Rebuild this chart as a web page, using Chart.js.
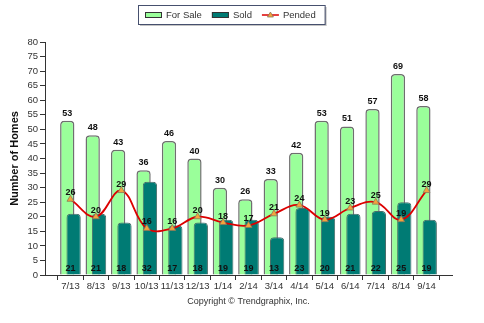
<!DOCTYPE html>
<html>
<head>
<meta charset="utf-8">
<script src="https://cdn.jsdelivr.net/npm/chart.js@4/dist/chart.umd.min.js"></script>
<style>
  html, body { margin: 0; padding: 0; background: #fff; }
  #wrap { width: 484px; height: 323px; }
</style>
</head>
<body>
<div id="wrap"><canvas id="c" width="484" height="323"></canvas></div>
<script>
// Monthly housing activity, 7/13 – 9/14
const months  = ['7/13','8/13','9/13','10/13','11/13','12/13','1/14','2/14','3/14','4/14','5/14','6/14','7/14','8/14','9/14'];
const forSale = [53, 48, 43, 36, 46, 40, 30, 26, 33, 42, 53, 51, 57, 69, 58];
const sold    = [21, 21, 18, 32, 17, 18, 19, 19, 13, 23, 20, 21, 22, 25, 19];
const pended  = [26, 20, 29, 16, 16, 20, 18, 17, 21, 24, 19, 23, 25, 19, 29];
const yMin = 0, yMax = 80, yStep = 5;

const FONT = '"Liberation Sans", Arial, sans-serif';
const toPoints = vals => vals.map((v, i) => ({ x: i, y: v }));

// Sold bars sit on the right of each pair but are painted over the For Sale bars.
const soldOnTop = {
  id: 'soldOnTop',
  beforeDatasetDraw(chart, args) {
    if (args.index === 1) return false;
  },
  afterDatasetDraw(chart, args) {
    if (args.index === 0) {
      const { ctx, chartArea } = chart;
      ctx.save();
      ctx.beginPath();
      ctx.rect(chartArea.left, chartArea.top - 20, chartArea.right - chartArea.left, chartArea.bottom - chartArea.top + 20);
      ctx.clip();
      chart.getDatasetMeta(1).controller.draw();
      ctx.restore();
    }
  }
};

// Value labels: For Sale above the bar, Sold at the foot of the pair, Pended above its point
const valueLabels = {
  id: 'valueLabels',
  afterDatasetsDraw(chart) {
    const { ctx } = chart;
    const xs = chart.scales.x, ys = chart.scales.y;
    ctx.save();
    ctx.font = 'bold 9px ' + FONT;
    ctx.fillStyle = '#111';
    ctx.textAlign = 'center';
    ctx.textBaseline = 'alphabetic';
    chart.data.datasets.forEach((ds, di) => {
      const meta = chart.getDatasetMeta(di);
      meta.data.forEach((el, i) => {
        const v = ds.data[i].y;
        if (ds.valuePos === 'top') {
          ctx.fillText(String(v), el.x, el.y - 5);
        } else if (ds.valuePos === 'base') {
          ctx.fillText(String(v), xs.getPixelForValue(i), ys.getPixelForValue(0) - 4);
        } else {
          ctx.fillText(String(v), el.x, el.y - 4);
        }
      });
    });
    ctx.restore();
  }
};

// Boxed legend at the top of the chart
const boxedLegend = {
  id: 'boxedLegend',
  afterDraw(chart) {
    const { ctx } = chart;
    const ds = chart.data.datasets;
    const left = 138, top = 5, height = 19, sw = 17, gap = 4, spacing = 10;
    ctx.save();
    ctx.font = '9.5px ' + FONT;
    let w = 7;
    ds.forEach((d, i) => { w += sw + gap + ctx.measureText(d.label).width + (i < ds.length - 1 ? spacing : 9); });
    // shadow + box
    ctx.fillStyle = '#c4c4c4';
    ctx.fillRect(left + 2, top + 2, w, height);
    ctx.fillStyle = '#fff';
    ctx.fillRect(left, top, w, height);
    ctx.strokeStyle = '#46506e';
    ctx.lineWidth = 1;
    ctx.strokeRect(left + 0.5, top + 0.5, w, height);
    const cy = top + height / 2 + 0.5;
    let x = left + 7;
    ds.forEach(d => {
      if (d.type === 'line') {
        ctx.strokeStyle = d.borderColor;
        ctx.lineWidth = 1.5;
        ctx.beginPath(); ctx.moveTo(x, cy); ctx.lineTo(x + sw, cy); ctx.stroke();
        ctx.fillStyle = d.pointBackgroundColor;
        ctx.strokeStyle = d.pointBorderColor;
        ctx.lineWidth = 0.8;
        ctx.beginPath();
        ctx.moveTo(x + sw / 2, cy - 3);
        ctx.lineTo(x + sw / 2 + 3, cy + 2);
        ctx.lineTo(x + sw / 2 - 3, cy + 2);
        ctx.closePath(); ctx.fill(); ctx.stroke();
      } else {
        ctx.fillStyle = d.backgroundColor;
        ctx.fillRect(x, cy - 3, sw, 6);
        ctx.strokeStyle = '#333';
        ctx.lineWidth = 1;
        ctx.strokeRect(x + 0.5, cy - 3 + 0.5, sw - 1, 5);
      }
      x += sw + gap;
      ctx.fillStyle = '#333';
      ctx.textAlign = 'left';
      ctx.textBaseline = 'middle';
      ctx.fillText(d.label, x, cy);
      x += ctx.measureText(d.label).width + spacing;
    });
    ctx.restore();
  }
};

new Chart(document.getElementById('c'), {
  data: {
    datasets: [
      {
        type: 'bar', label: 'For Sale', data: toPoints(forSale), valuePos: 'top',
        backgroundColor: '#9aff9a', borderColor: '#6f6f6f', borderWidth: 1.5,
        borderRadius: { topLeft: 4, topRight: 4 }, borderSkipped: 'bottom',
        categoryPercentage: 0.5, barPercentage: 2.25, order: 0
      },
      {
        type: 'bar', label: 'Sold', data: toPoints(sold), valuePos: 'base',
        backgroundColor: '#007b74', borderColor: '#4a6e6b', borderWidth: 1,
        borderRadius: { topLeft: 4, topRight: 4 }, borderSkipped: 'bottom',
        categoryPercentage: 0.5, barPercentage: 2.25, order: 0
      },
      {
        type: 'line', label: 'Pended', data: toPoints(pended), valuePos: 'point',
        borderColor: '#dc0000', borderWidth: 1.8, tension: 0.4, fill: false,
        pointStyle: 'triangle', pointRadius: 4, pointBackgroundColor: '#f4a43c',
        pointBorderColor: '#8c7a5a', pointBorderWidth: 0.8, order: -1
      }
    ]
  },
  options: {
    responsive: false,
    animation: false,
    devicePixelRatio: 1,
    layout: { padding: { top: 42, right: 32, left: 0, bottom: 0 } },
    plugins: { legend: { display: false }, tooltip: { enabled: false } },
    scales: {
      x: {
        type: 'linear', min: -1, max: 15, offset: false,
        grid: { display: true, drawOnChartArea: false, drawTicks: true, tickLength: 5, color: '#333' },
        border: { display: true, color: '#333', width: 1 },
        ticks: {
          stepSize: 1, autoSkip: false, maxRotation: 0, padding: 1,
          color: '#333', font: { family: FONT, size: 9.5 },
          callback: v => (v >= 0 && v < months.length ? months[v] : '')
        },
        title: {
          display: true, text: 'Copyright \u00A9 Trendgraphix, Inc.', color: '#333',
          font: { family: FONT, size: 9 }, padding: { top: 0, bottom: 16 }
        },
        afterFit: s => { s.height = 48; }
      },
      y: {
        min: yMin, max: yMax,
        grid: { display: true, drawOnChartArea: false, drawTicks: true, tickLength: 5, color: '#333' },
        border: { display: true, color: '#333', width: 1 },
        ticks: { stepSize: yStep, padding: 2, color: '#333', font: { family: FONT, size: 9.5 } },
        title: {
          display: true, text: 'Number of Homes', color: '#111',
          font: { family: FONT, size: 11, weight: 'bold' }, padding: { top: 8, bottom: 0 }
        },
        afterFit: s => { s.width = 45; }
      }
    }
  },
  plugins: [soldOnTop, valueLabels, boxedLegend]
});
</script>
</body>
</html>
